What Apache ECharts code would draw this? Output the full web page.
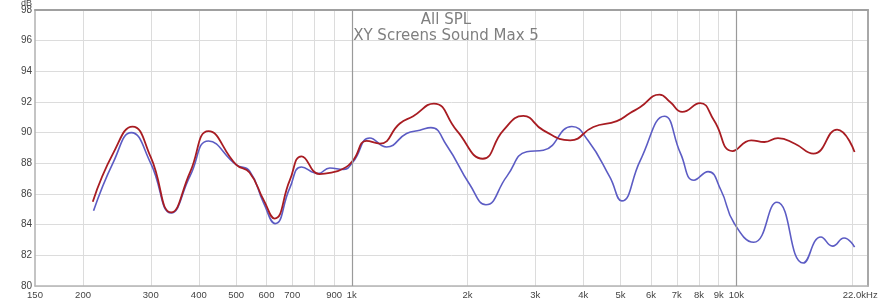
<!DOCTYPE html>
<html>
<head>
<meta charset="utf-8">
<script src="https://cdn.jsdelivr.net/npm/echarts@6/dist/echarts.min.js"></script>
<style>html,body{margin:0;padding:0;background:#fff}#c{width:885px;height:300px}</style>
</head>
<body>
<div id="c"></div>
<script>
// ---- data (frequency in Hz, level in dB) ----
const redFreq = [212,240,269,300,339,380,424,501,542,590,630,690,740,825,876,949,1008,1092,1183,1333,1444,1635,1873,2191,2478,2793,3150,3697,4247,4887,5294,5628,6312,6727,7231,8047,8752,9774,10930,11830,12830,14200,15870,18280,20300];
const redDb   = [85.5,88.7,90.4,88.4,84.8,87.45,90.1,87.9,87.4,85.6,84.4,86.9,88.46,87.3,87.37,87.65,88.2,89.46,89.29,90.6,91.07,91.9,90.15,88.3,90.15,91.09,90.15,89.5,90.37,90.75,91.28,91.67,92.48,92.0,91.35,91.93,90.8,88.8,89.5,89.39,89.65,89.28,88.63,90.2,88.74];
const blueFreq = [213,240,267,300,339,380,424,501,542,590,632,690,740,817,877,949,1008,1114,1231,1388,1503,1606,1764,2028,2232,2530,2850,3150,3735,4111,4690,5036,5628,6500,7158,7760,8443,9115,9870,11100,12750,14930,16600,17800,19060,20300];
const blueDb   = [84.9,88.1,90.0,88.0,84.76,87.2,89.46,87.9,87.5,85.4,84.07,86.4,87.76,87.33,87.7,87.6,88.1,89.65,89.07,89.94,90.16,90.33,89.18,86.6,85.3,87.15,88.76,88.85,90.4,89.5,87.1,85.55,88.2,91.07,88.65,86.9,87.46,86.26,84.09,82.85,85.46,81.5,83.2,82.6,83.13,82.54];
const gridFreqs = [200,300,400,500,600,700,800,900,1000,2000,3000,4000,5000,6000,7000,8000,9000,10000,20000];
const majorFreqs = [1000,10000];
const tickFreqs  = [150,200,300,400,500,600,700,900,1000,2000,3000,4000,5000,6000,7000,8000,9000,10000,21000];
const tickLabels = ['150','200','300','400','500','600','700','900','1k','2k','3k','4k','5k','6k','7k','8k','9k','10k','22.0kHz'];
const titleLines = ['All SPL','XY Screens Sound Max 5'];
const yMin = 80, yMax = 98, yStep = 2;
const fMin = 150, fMax = 22000;

const L = Math.log10;
const toPts = (fs, ds) => fs.map((f, i) => [L(f), ds[i]]);
const chart = echarts.init(document.getElementById('c'), null, {renderer: 'canvas'});
const fontFam = '"Liberation Sans", Arial, sans-serif';
chart.setOption({
  animation: false,
  backgroundColor: '#fff',
  title: {
    text: titleLines.join('\n'),
    left: 441, top: 7, textAlign: 'center',
    textStyle: {fontFamily: '"DejaVu Sans", sans-serif', fontSize: 15, fontWeight: 'normal', color: '#7f7f7f', lineHeight: 16}
  },
  graphic: [{type: 'text', left: 21, top: -1, style: {text: 'dB', font: '9px "Liberation Sans", sans-serif', fill: '#444'}}],
  grid: {left: 35, right: 17, top: 10, bottom: 14, show: false},
  xAxis: [{
    type: 'value', min: L(fMin), max: L(fMax),
    axisLine: {show: true, onZero: false, lineStyle: {color: '#b5b5b5', width: 1.5}},
    axisTick: {show: false, customValues: gridFreqs.map(L)},
    splitLine: {show: true, lineStyle: {color: '#dcdcdc', width: 1}},
    axisLabel: {
      customValues: tickFreqs.map(L), margin: 4,
      fontFamily: fontFam, fontSize: 9.5, color: '#444',
      formatter: v => { const i = tickFreqs.findIndex(f => Math.abs(L(f) - v) < 1e-6); return i >= 0 ? tickLabels[i] : ''; }
    }
  }, {
    type: 'value', position: 'top', min: L(fMin), max: L(fMax),
    axisLine: {show: true, lineStyle: {color: '#a0a0a0', width: 2}},
    axisTick: {show: false}, axisLabel: {show: false}, splitLine: {show: false}
  }],
  yAxis: [{
    type: 'value', min: yMin, max: yMax, interval: yStep,
    axisLine: {show: true, lineStyle: {color: '#b0b0b0', width: 1.5}},
    axisTick: {show: false},
    splitLine: {show: true, lineStyle: {color: '#dcdcdc', width: 1}},
    axisLabel: {margin: 3, fontFamily: fontFam, fontSize: 10, color: '#444'}
  }, {
    type: 'value', position: 'right', min: yMin, max: yMax,
    axisLine: {show: true, lineStyle: {color: '#a8a8a8', width: 2}},
    axisTick: {show: false}, axisLabel: {show: false}, splitLine: {show: false}
  }],
  series: [{
    type: 'line', name: 'grid', data: [], z: 1, silent: true,
    markLine: {
      silent: true, symbol: ['none', 'none'], label: {show: false},
      lineStyle: {color: '#9a9a9a', width: 1.2, type: 'solid'},
      data: majorFreqs.map(f => ({xAxis: L(f)}))
    }
  }, {
    type: 'line', name: 'blue', data: toPts(blueFreq, blueDb), smooth: 0.5,
    showSymbol: false, lineStyle: {color: '#5c5cc4', width: 1.6}, z: 3
  }, {
    type: 'line', name: 'red', data: toPts(redFreq, redDb), smooth: 0.5,
    showSymbol: false, lineStyle: {color: '#a81c22', width: 1.8}, z: 4
  }]
});
</script>
</body>
</html>
